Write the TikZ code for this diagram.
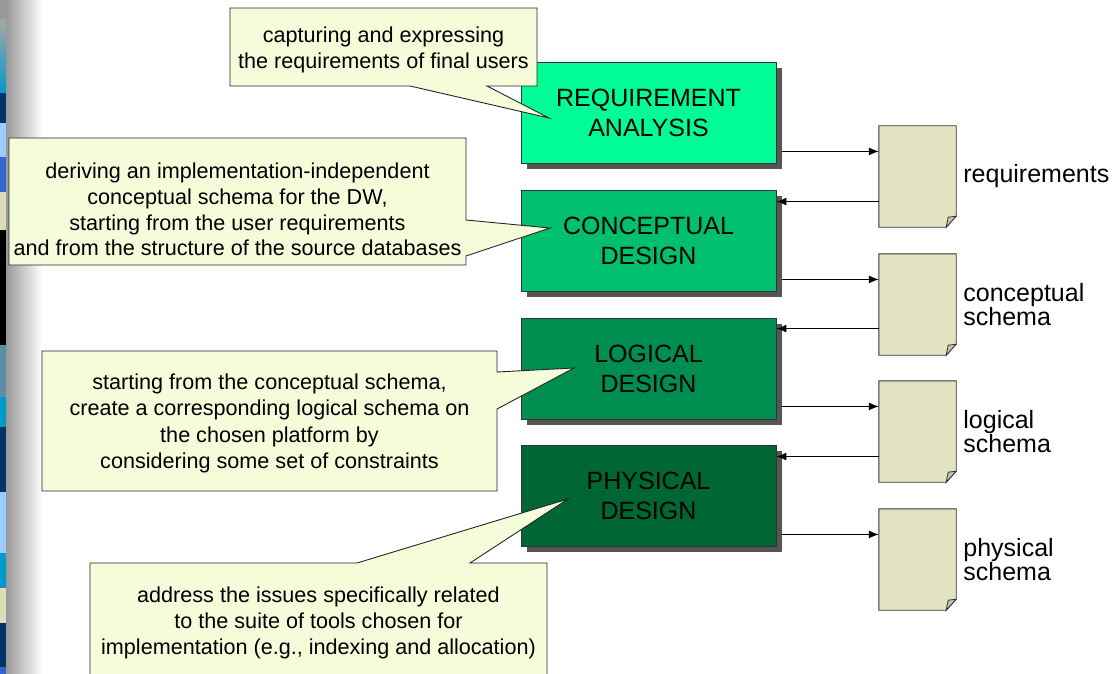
\documentclass[tikz,border=0pt]{standalone}
\usepackage{fontspec}
\setmainfont{Liberation Sans}
\usetikzlibrary{arrows.meta,calc,shadows}

% phase colours, from light to dark
\definecolor{reqgreen}{RGB}{0,252,150}
\definecolor{congreen}{RGB}{0,192,112}
\definecolor{loggreen}{RGB}{0,142,80}
\definecolor{phygreen}{RGB}{0,102,51}
\definecolor{shadowgray}{RGB}{85,85,85}
% notes and documents
\definecolor{notefill}{RGB}{244,252,218}
\definecolor{docfill}{RGB}{228,228,194}
\definecolor{flapfill}{RGB}{196,196,176}
% slide edge tiles
\definecolor{tcyan}{RGB}{0,153,204}
\definecolor{tnavy}{RGB}{0,51,102}
\definecolor{tlight}{RGB}{153,204,255}
\definecolor{tblue}{RGB}{51,102,204}
\definecolor{tbeige}{RGB}{221,221,184}
\definecolor{tteal}{RGB}{90,143,168}

\tikzset{
  phase/.style={draw=black!80, line width=0.9pt, minimum width=255pt,
    minimum height=101pt, inner sep=0pt, align=center,
    font=\fontsize{25}{30}\selectfont,
    drop shadow={shadow xshift=6pt, shadow yshift=-6pt, fill=shadowgray, opacity=1}},
  note/.style={draw=black!85, line width=0.9pt, fill=notefill, line join=miter},
  notetext/.style={align=center, font=\fontsize{21.6}{25.6}\selectfont, inner sep=0pt},
  docbox/.style={minimum width=77pt, minimum height=101pt, inner sep=0pt},
  docline/.style={draw=black!80, line width=0.9pt, fill=docfill, line join=miter},
  doclabel/.style={anchor=west, align=left, font=\fontsize{25}{24}\selectfont, inner sep=0pt},
  flow/.style={line width=1.1pt, -{Latex[length=10pt,width=8pt]}},
}

\begin{document}
\begin{tikzpicture}[x=1pt,y=-1pt]
\useasboundingbox (0,0) rectangle (1114,674);
\clip (0,0) rectangle (1114,674);

% slide edge: coloured tiles and a grey fade
\shade[left color=black!40, right color=white] (6,0) rectangle (42,674);
\fill[black!40] (0,0) rectangle (6,20);
\shade[top color=black!35, bottom color=tcyan] (0,20) rectangle (6,93);
\foreach \a/\b/\c in {93/123/tnavy, 123/157/tlight, 157/192/tblue,
  192/230/tbeige, 230/345/black, 345/397/tteal, 397/427/tcyan,
  427/492/tnavy, 492/553/tlight, 553/588/tcyan, 588/623/tbeige,
  623/667/tnavy, 667/674/tblue}
  \fill[\c] (0,\a) rectangle (6,\b);

% design phases
\node[phase, fill=reqgreen] (r1) at (648.5,112.5) {REQUIREMENT\\ANALYSIS};
\node[phase, fill=congreen] (r2) at (648.5,240.5) {CONCEPTUAL\\DESIGN};
\node[phase, fill=loggreen] (r3) at (648.5,368.5) {LOGICAL\\DESIGN};
\node[phase, fill=phygreen] (r4) at (648.5,495.5) {PHYSICAL\\DESIGN};

% produced documents with a folded corner
\foreach \n/\y in {d1/176.5, d2/304.5, d3/431.5, d4/559.5}{
  \node[docbox] (\n) at (917.5,\y) {};
  \path[docline] (\n.north west) -- (\n.north east)
    -- ($(\n.south east)+(0,-11)$) -- ($(\n.south east)+(-10,0)$)
    -- (\n.south west) -- cycle;
  \path[draw=black!80, line width=0.8pt, fill=flapfill, line join=miter]
    ($(\n.south east)+(0,-11)$) -- ($(\n.south east)+(-8,-10)$)
    -- ($(\n.south east)+(-10,0)$) -- cycle;
}

\node[doclabel] (l1) at ($(d1.east)+(7,0)$) {requirements};
\node[doclabel] (l2) at ($(d2.east)+(7,0)$) {conceptual\\schema};
\node[doclabel] (l3) at ($(d3.east)+(7,0)$) {logical\\schema};
\node[doclabel] (l4) at ($(d4.east)+(7,0)$) {physical\\schema};

% data flow between phases and documents
\coordinate (o1) at ($(r1.south east)+(6,-12)$);
\coordinate (i2) at ($(r2.north east)+(0,12)$);
\coordinate (o2) at ($(r2.south east)+(6,-12)$);
\coordinate (i3) at ($(r3.north east)+(0,11)$);
\coordinate (o3) at ($(r3.south east)+(6,-13)$);
\coordinate (i4) at ($(r4.north east)+(0,12)$);
\coordinate (o4) at ($(r4.south east)+(6,-12)$);
\draw[flow] (o1) -- (o1 -| d1.west);
\draw[flow] (i2 -| d1.west) -- (i2);
\draw[flow] (o2) -- (o2 -| d2.west);
\draw[flow] (i3 -| d2.west) -- (i3);
\draw[flow] (o3) -- (o3 -| d3.west);
\draw[flow] (i4 -| d3.west) -- (i4);
\draw[flow] (o4) -- (o4 -| d4.west);

% explanatory callouts
\path[note] (230,8) -- (537,8) -- (537,86) -- (487,86) -- (549,118)
  -- (410,86) -- (230,86) -- cycle;
\node[notetext] (c1) at (383.5,50)
  {capturing and expressing\\the requirements of final users};

\path[note] (9,138) -- (466,138) -- (466,220) -- (550,228) -- (466,256)
  -- (466,265) -- (9,265) -- cycle;
\node[notetext] (c2) at (237.5,209.5)
  {deriving an implementation-independent\\conceptual schema for the DW,\\starting from the user requirements\\and from the structure of the source databases};

\path[note] (42,351) -- (497,351) -- (497,372) -- (574,368) -- (497,409)
  -- (497,491) -- (42,491) -- cycle;
\node[notetext, font=\fontsize{21.6}{26.4}\selectfont] (c3) at (269.5,423.5)
  {starting from the conceptual schema,\\create a corresponding logical schema on\\the chosen platform by\\considering some set of constraints};

\path[note] (90,563) -- (357,563) -- (568,499) -- (470,563) -- (547,563)
  -- (547,690) -- (90,690) -- cycle;
\node[notetext] (c4) at (318.5,623)
  {address the issues specifically related\\to the suite of tools chosen for\\implementation (e.g., indexing and allocation)};
\end{tikzpicture}
\end{document}
